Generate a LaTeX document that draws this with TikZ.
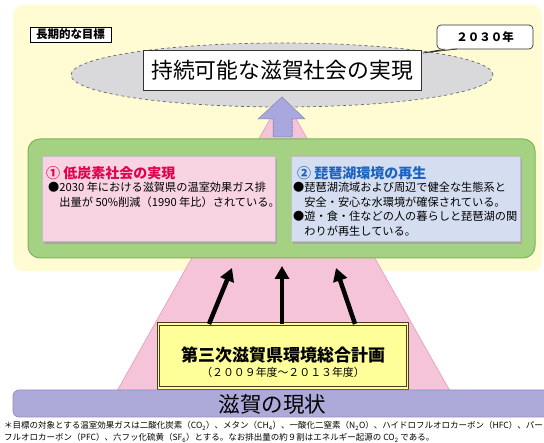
\documentclass[tikz,border=0pt]{standalone}
\usepackage{fontspec}
\setmainfont{Noto Sans CJK JP}
\usetikzlibrary{arrows.meta,shapes.geometric}
\definecolor{bgyellow}{HTML}{FFFBD2}
\definecolor{pinktri}{HTML}{F5C4D8}
\definecolor{pinkedge}{HTML}{E59AB9}
\definecolor{ellgray}{HTML}{D9D9DB}
\definecolor{lav}{HTML}{A9A8DE}
\definecolor{lavdark}{HTML}{8886C4}
\definecolor{greenfill}{HTML}{A5D282}
\definecolor{greenedge}{HTML}{7DB45A}
\definecolor{pinkbox}{HTML}{F8D4E3}
\definecolor{bluebox}{HTML}{D5DEF1}
\definecolor{redtext}{HTML}{E4004F}
\definecolor{bluetext}{HTML}{1B63C0}
\definecolor{planfill}{HTML}{FFFF99}
\definecolor{planedge}{HTML}{4A3C1C}
\definecolor{barfill}{HTML}{ADAADA}
\definecolor{baredge}{HTML}{8F8BC2}
\tikzset{
  plainbox/.style={rectangle, inner sep=0pt, outer sep=0pt},
  bigarrow/.style={line width=4.5pt, -{Triangle[length=13pt,width=14pt]}},
  linetext/.style={anchor=west, inner sep=0pt, font=\fontsize{11.2}{13}\selectfont},
}
\begin{document}
\begin{tikzpicture}[x=1pt,y=-1pt]
\useasboundingbox (0,0) rectangle (544,443);
% background
\node[plainbox, fill=bgyellow, rounded corners=10pt, minimum width=529pt, minimum height=266pt] (bg) at (277.5,138) {};
% pink triangle
\filldraw[fill=pinktri, draw=pinkedge, line width=0.6pt] (283,96) -- (117,391) -- (450,391) -- cycle;
% goal label
\node[plainbox, draw=black, fill=white, line width=0.6pt, minimum width=81pt, minimum height=15pt, font=\bfseries\fontsize{11.5}{12}\selectfont] (goal) at (70.5,34.5) {長期的な目標};
% ellipse
\node[ellipse, draw=black!60, dashed, line width=0.7pt, fill=ellgray, minimum width=422pt, minimum height=64pt, inner sep=0pt] (ell) at (282,75) {};
% title
\node[plainbox, draw=black!80, fill=white, line width=0.6pt, minimum width=278pt, minimum height=40pt, font=\fontsize{21.8}{23}\selectfont] (title) at (282,70) {持続可能な滋賀社会の実現};
% callout
\node[plainbox, draw=black!80, fill=white, rounded corners=4pt, line width=0.7pt, minimum width=96pt, minimum height=24pt, font=\bfseries\fontsize{11.5}{12}\selectfont] (year) at (485,37) {２０３０年};
\coordinate (tip) at (423,53);
\fill[white] (445,47.6) -- (tip) -- (457,47.6) -- cycle;
\draw[black!80, line width=0.7pt] (445,49) -- (tip) -- (457,49);
% lavender arrow
\filldraw[fill=lav, draw=lav!80!black, line width=0.5pt] (282,97) -- (305,119) -- (292,119) -- (292,137) -- (273,137) -- (273,119) -- (258,119) -- cycle;
\draw[lavdark, dotted, line width=0.7pt] (273,119) -- (273,137) (292,119) -- (292,137);
% green box
\node[plainbox, fill=greenfill, draw=greenedge, line width=1pt, rounded corners=12pt, minimum width=507pt, minimum height=119pt] (green) at (281.5,198.5) {};
% inner boxes with shadows
\fill[black!35] (44,159) rectangle (277,244);
\node[plainbox, fill=pinkbox, draw=black!25, line width=0.4pt, minimum width=233pt, minimum height=85pt] (pinkb) at (158.5,199) {};
\fill[black!35] (293,159) rectangle (522,244);
\node[plainbox, fill=bluebox, draw=black!25, line width=0.4pt, minimum width=229pt, minimum height=85pt] (blueb) at (405.5,199) {};
% pink texts
\node[anchor=west, inner sep=0pt, text=redtext, font=\bfseries\fontsize{14}{15}\selectfont] (pt) at (46,173.5) {① 低炭素社会の実現};
\node[linetext] (p1) at (48,187.5) {●2030 年における滋賀県の温室効果ガス排};
\node[linetext] (p2) at (48,202) {\hspace{1em}出量が 50\%削減（1990 年比）されている。};
% blue texts
\node[anchor=west, inner sep=0pt, text=bluetext, font=\bfseries\fontsize{14}{15}\selectfont] (bt) at (297,173.5) {② 琵琶湖環境の再生};
\node[linetext] (b1) at (293,187.5) {●琵琶湖流域および周辺で健全な生態系と};
\node[linetext] (b2) at (293,202) {\hspace{1em}安全・安心な水環境が確保されている。};
\node[linetext] (b3) at (293,216.5) {●遊・食・住などの人の暮らしと琵琶湖の関};
\node[linetext] (b4) at (293,231) {\hspace{1em}わりが再生している。};
% plan box
\node[plainbox, fill=planfill, draw=planedge, line width=0.7pt, double=planfill, double distance=1.8pt, minimum width=249pt, minimum height=64pt] (plan) at (283,356) {};
\node[inner sep=0pt, font=\bfseries\fontsize{17}{18}\selectfont] (plantitle) at (283,354.5) {第三次滋賀県環境総合計画};
\node[inner sep=0pt, font=\fontsize{10.9}{12}\selectfont] (plansub) at (283,372) {（２００９年度～２０１３年度）};
% black arrows
\coordinate (s1) at (209,324); \coordinate (e1) at (232,268);
\coordinate (s2) at (282,324); \coordinate (e2) at (282,266);
\coordinate (s3) at (355,324); \coordinate (e3) at (336,268);
\draw[bigarrow] (s1) -- (e1);
\draw[bigarrow] (s2) -- (e2);
\draw[bigarrow] (s3) -- (e3);
% bottom bar
\node[plainbox, fill=barfill, draw=baredge, line width=0.7pt, rounded corners=6pt, minimum width=537pt, minimum height=27pt] (bar) at (281.5,403.5) {};
\node[inner sep=0pt, font=\fontsize{21.5}{23}\selectfont] (bartext) at (272.5,404.5) {滋賀の現状};
% footnote
\node[anchor=west, inner sep=0pt, font=\fontsize{8.5}{9}\selectfont] (f1) at (4,426) {＊目標の対象とする温室効果ガスは二酸化炭素（CO\textsubscript{2}）、メタン（CH\textsubscript{4}）、一酸化二窒素（N\textsubscript{2}O）、ハイドロフルオロカーボン（HFC）、パー};
\node[anchor=west, inner sep=0pt, font=\fontsize{8.5}{9}\selectfont] (f2) at (4,438) {フルオロカーボン（PFC）、六フッ化硫黄（SF\textsubscript{6}）とする。なお排出量の約９割はエネルギー起源の CO\textsubscript{2} である。};
\end{tikzpicture}
\end{document}
